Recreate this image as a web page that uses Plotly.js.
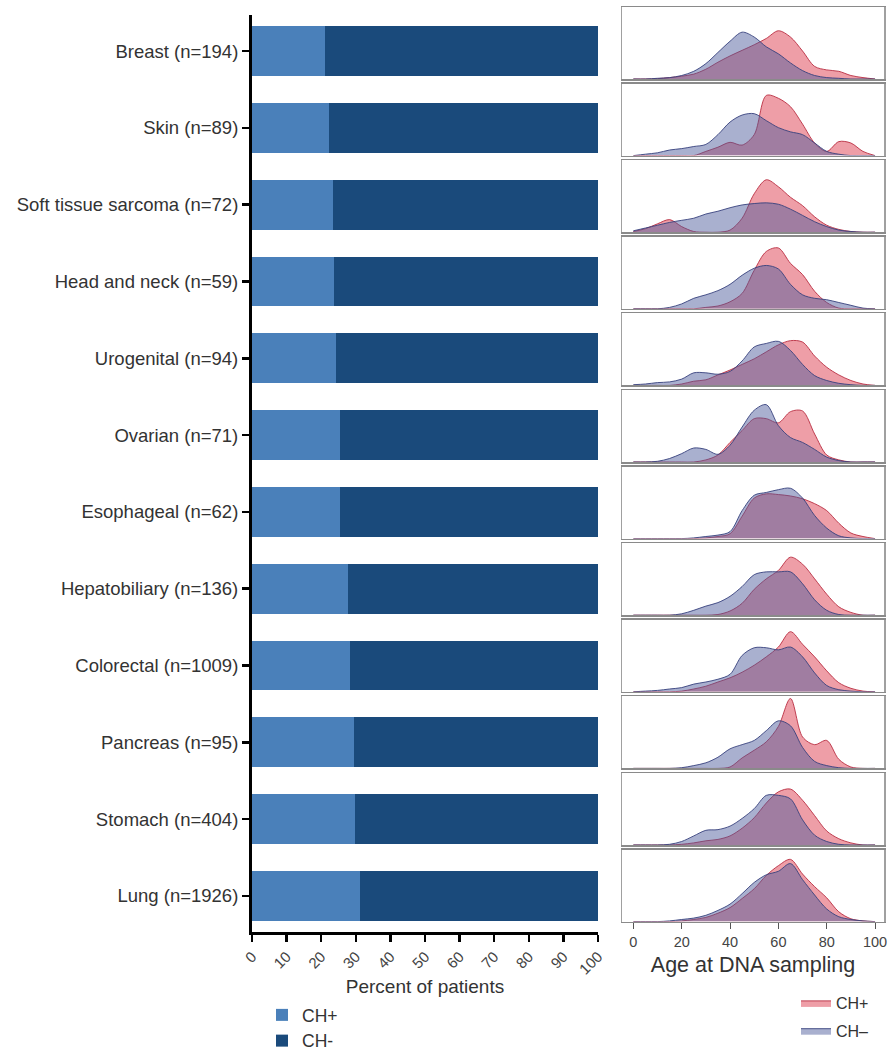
<!DOCTYPE html>
<html><head><meta charset="utf-8">
<script src="https://cdn.plot.ly/plotly-3.0.1.min.js"></script>
<style>html,body{margin:0;padding:0;background:#fff}#chart{width:890px;height:1051px}</style>
</head><body><div id="chart"></div>
<script>
const categories = ["Breast (n=194)","Skin (n=89)","Soft tissue sarcoma (n=72)","Head and neck (n=59)","Urogenital (n=94)","Ovarian (n=71)","Esophageal (n=62)","Hepatobiliary (n=136)","Colorectal (n=1009)","Pancreas (n=95)","Stomach (n=404)","Lung (n=1926)"];
const chPosPct = [21.1,22.2,23.4,23.7,24.3,25.3,25.5,27.7,28.2,29.4,29.9,31.1];
const chNegPct = [78.9,77.8,76.6,76.3,75.7,74.7,74.5,72.3,71.8,70.6,70.1,68.9];
const xTicks = [0,10,20,30,40,50,60,70,80,90,100];
const ageTicks = [0,20,40,60,80,100];

// density curves (relative height) on an age grid 0..100 step 5
const ages = [0,5,10,15,20,25,30,35,40,45,50,55,60,65,70,75,80,85,90,95,100];
const posBreast = [0,0,0.005,0.02,0.04,0.07,0.14,0.24,0.33,0.41,0.49,0.58,0.69,0.6,0.4,0.18,0.13,0.11,0.05,0.02,0];
const negBreast = [0,0,0.01,0.02,0.05,0.11,0.22,0.38,0.54,0.67,0.6,0.46,0.36,0.23,0.12,0.05,0.02,0.01,0,0,0];
const posSkin = [0,0,0,0,0,0,0.06,0.12,0.19,0.15,0.3,0.86,0.82,0.7,0.45,0.18,0.06,0.2,0.18,0.06,0];
const negSkin = [0,0.02,0.04,0.08,0.1,0.13,0.16,0.3,0.48,0.58,0.6,0.5,0.4,0.34,0.3,0.18,0.06,0.02,0,0,0];
const posSoft = [0.01,0.05,0.12,0.18,0.08,0.01,0,0,0.03,0.2,0.55,0.75,0.65,0.5,0.38,0.22,0.1,0.04,0.01,0,0];
const negSoft = [0.02,0.06,0.1,0.14,0.17,0.2,0.26,0.3,0.35,0.39,0.41,0.42,0.4,0.33,0.24,0.15,0.08,0.03,0.01,0,0];
const posHead = [0,0,0,0,0,0,0.02,0.04,0.1,0.22,0.55,0.82,0.87,0.65,0.49,0.25,0.09,0.01,0,0,0];
const negHead = [0,0,0,0.02,0.07,0.15,0.2,0.26,0.35,0.48,0.58,0.62,0.57,0.35,0.2,0.15,0.13,0.09,0.05,0.01,0];
const posUro = [0,0,0,0,0.02,0.06,0.08,0.15,0.22,0.3,0.38,0.48,0.58,0.64,0.62,0.42,0.26,0.15,0.07,0.02,0];
const negUro = [0.01,0.02,0.04,0.05,0.09,0.18,0.18,0.16,0.2,0.35,0.55,0.6,0.63,0.5,0.3,0.14,0.07,0.03,0.01,0,0];
const posOva = [0,0,0,0,0,0,0.03,0.1,0.28,0.45,0.62,0.62,0.56,0.72,0.73,0.4,0.1,0.03,0,0,0];
const negOva = [0,0,0.01,0.05,0.12,0.2,0.18,0.11,0.24,0.5,0.74,0.82,0.52,0.35,0.28,0.18,0.07,0.02,0,0,0];
const posEso = [0,0,0,0,0,0,0.01,0.03,0.07,0.32,0.58,0.64,0.63,0.61,0.57,0.5,0.4,0.22,0.08,0.03,0];
const negEso = [0,0,0,0,0,0.01,0.03,0.05,0.1,0.4,0.62,0.66,0.7,0.72,0.58,0.33,0.15,0.04,0.01,0,0];
const posHep = [0,0,0,0,0,0,0,0.01,0.06,0.17,0.37,0.52,0.64,0.83,0.73,0.52,0.3,0.12,0.04,0,0];
const negHep = [0,0,0,0,0.02,0.07,0.13,0.18,0.27,0.41,0.58,0.62,0.62,0.62,0.45,0.22,0.07,0.01,0,0,0];
const posCol = [0,0,0,0,0.01,0.04,0.08,0.14,0.2,0.28,0.38,0.5,0.64,0.86,0.68,0.5,0.3,0.13,0.05,0.01,0];
const negCol = [0,0.01,0.02,0.04,0.06,0.11,0.14,0.18,0.25,0.52,0.63,0.63,0.6,0.64,0.5,0.27,0.09,0.03,0.01,0,0];
const posPan = [0,0,0,0,0,0,0,0,0.02,0.15,0.26,0.38,0.6,1.0,0.45,0.34,0.4,0.13,0.02,0,0];
const negPan = [0,0,0,0,0.01,0.04,0.08,0.16,0.28,0.34,0.4,0.54,0.68,0.61,0.3,0.1,0.04,0.01,0,0,0];
const posSto = [0,0,0,0,0.01,0.03,0.06,0.08,0.13,0.24,0.39,0.6,0.76,0.8,0.64,0.42,0.2,0.09,0.03,0,0];
const negSto = [0,0,0,0.01,0.05,0.13,0.21,0.22,0.27,0.38,0.52,0.71,0.71,0.66,0.36,0.14,0.05,0.01,0,0,0];
const posLung = [0,0,0,0,0.01,0.03,0.06,0.12,0.2,0.33,0.47,0.66,0.8,0.89,0.68,0.5,0.34,0.14,0.04,0.01,0];
const negLung = [0,0,0,0.01,0.03,0.05,0.09,0.16,0.25,0.4,0.56,0.67,0.72,0.83,0.6,0.38,0.18,0.07,0.03,0.01,0];

const posSeries = [posBreast,posSkin,posSoft,posHead,posUro,posOva,posEso,posHep,posCol,posPan,posSto,posLung];
const negSeries = [negBreast,negSkin,negSoft,negHead,negUro,negOva,negEso,negHep,negCol,negPan,negSto,negLung];

const W = 890, H = 1051;
const font = "Liberation Sans, Arial, sans-serif";
const traces = [];
traces.push({type:'bar', orientation:'h', name:'CH+', y:categories, x:chPosPct, marker:{color:'#4a80ba'}, width:0.65, xaxis:'x', yaxis:'y', legend:'legend', hoverinfo:'skip'});
traces.push({type:'bar', orientation:'h', name:'CH-', y:categories, x:chNegPct, marker:{color:'#1a4a7b'}, width:0.65, xaxis:'x', yaxis:'y', legend:'legend', hoverinfo:'skip'});

const layout = {
  width:W, height:H, margin:{l:0,r:0,t:0,b:0, autoexpand:false}, paper_bgcolor:'#fff', plot_bgcolor:'rgba(0,0,0,0)',
  barmode:'stack', bargap:0.35, font:{family:font, color:'#333'},
  showlegend:true,
  xaxis:{domain:[252/W, 598/W], range:[0,100], anchor:'y', tickvals:xTicks, ticks:'outside', ticklen:7, tickwidth:2.5, tickcolor:'#000',
    showline:true, linewidth:3, linecolor:'#000', showgrid:false, zeroline:false, tickangle:-45, tickfont:{size:15, color:'#444'},
    title:{text:'Percent of patients', font:{size:19, color:'#333'}, standoff:4}},
  yaxis:{domain:[1-932/H, 1-15/H], type:'category', categoryorder:'array', categoryarray:categories, range:[11.47,-0.47], anchor:'x',
    ticks:'outside', ticklen:7, tickwidth:2.5, tickcolor:'#000', showline:true, linewidth:3, linecolor:'#000', showgrid:false, zeroline:false,
    tickfont:{size:18.5, color:'#333'}},
  legend:{x:262/W, y:1-997/H, xanchor:'left', yanchor:'top', font:{size:17.5, color:'#333'}, traceorder:'normal', bgcolor:'rgba(0,0,0,0)', itemwidth:30},
  legend2:{x:796/W, y:1-986/H, xanchor:'left', yanchor:'top', font:{size:16, color:'#333'}, traceorder:'grouped', tracegroupgap:4, bgcolor:'rgba(0,0,0,0)', itemwidth:30}
};

for (let i=0;i<12;i++){
  const n = i+2;
  const top = 7 + 76.6*i, bot = top + 72;
  const xa = 'xaxis'+n, ya = 'yaxis'+n;
  const last = (i===11);
  layout[xa] = {domain:[622/W, 884/W], range:[-4.7,103.7], anchor:'y'+n, showgrid:false, zeroline:false,
    showline:true, mirror:true, linecolor:'#8a8a8a', linewidth:1.5,
    showticklabels:last, ticks: last ? 'outside' : '', tickvals:ageTicks, ticklen:6, tickcolor:'#555', tickwidth:1,
    tickfont:{size:14.5, color:'#444'}};
  if (last) layout[xa].title = {text:'Age at DNA sampling', font:{size:21.5, color:'#333'}, standoff:8};
  layout[ya] = {domain:[1-bot/H, 1-top/H], range:[0,1.03], anchor:'x'+n, showgrid:false, zeroline:false,
    showline:true, mirror:true, linecolor:'#a0a0a0', linewidth:1.5, showticklabels:false, ticks:''};
  traces.push({type:'scatter', mode:'lines', x:ages, y:posSeries[i], fill:'tozeroy', fillcolor:'rgba(222,62,80,0.5)',
    line:{color:'rgba(185,45,65,0.9)', width:1, shape:'spline', smoothing:0.9}, name:'CH+', showlegend:i===0, legend:'legend2', legendgroup:'d1',
    xaxis:'x'+n, yaxis:'y'+n, hoverinfo:'skip'});
  traces.push({type:'scatter', mode:'lines', x:ages, y:negSeries[i], fill:'tozeroy', fillcolor:'rgba(75,90,155,0.48)',
    line:{color:'rgba(55,65,125,0.9)', width:1, shape:'spline', smoothing:0.9}, name:'CH\u2013', showlegend:i===0, legend:'legend2', legendgroup:'d2',
    xaxis:'x'+n, yaxis:'y'+n, hoverinfo:'skip'});
}

Plotly.newPlot('chart', traces, layout, {staticPlot:true, displayModeBar:false});
</script></body></html>
